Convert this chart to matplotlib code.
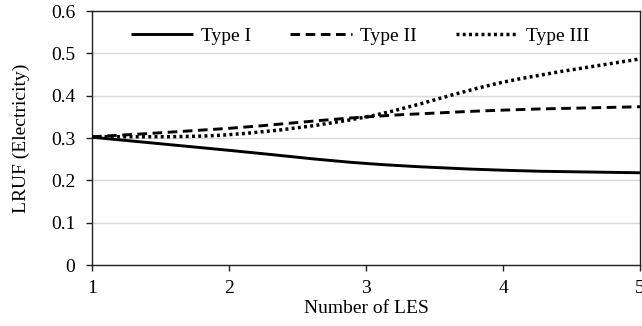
import numpy as np
import matplotlib
matplotlib.use("Agg")
import matplotlib.pyplot as plt
from matplotlib.path import Path
from matplotlib.patches import PathPatch
from matplotlib.lines import Line2D

plt.rcParams["font.family"] = ["Liberation Serif", "DejaVu Serif"]

num_les = [1, 2, 3, 4, 5]
type_1 = [0.302, 0.271, 0.240, 0.224, 0.218]
type_2 = [0.303, 0.323, 0.350, 0.366, 0.374]
type_3 = [0.303, 0.308, 0.350, 0.432, 0.487]
labels = ["Type I", "Type II", "Type III"]

styles = [
    dict(linestyle="-", linewidth=2.1),
    dict(linestyle=(0, (3.3, 1.9)), linewidth=2.1),
    dict(linestyle=(0, (0.85, 0.95)), linewidth=2.5),
]


def smooth_path(x, y):
    # cubic bezier through the points, spreadsheet-style smoothing
    p = np.column_stack([x, y]).astype(float)
    ext = np.vstack([p[0], p, p[-1]])
    verts = [p[0]]
    codes = [Path.MOVETO]
    for i in range(len(p) - 1):
        p0, p1, p2, p3 = ext[i], ext[i + 1], ext[i + 2], ext[i + 3]
        c1 = p1 + (p2 - p0) / 6.0
        c2 = p2 - (p3 - p1) / 6.0
        verts += [c1, c2, p2]
        codes += [Path.CURVE4] * 3
    return Path(verts, codes)


fig = plt.figure(figsize=(6.42, 3.26), dpi=100)
ax = fig.add_axes([0.1433, 0.187, 0.8537, 0.779])

handles = []
for ys, st, lab in zip([type_1, type_2, type_3], styles, labels):
    patch = PathPatch(smooth_path(num_les, ys), fill=False, edgecolor="black",
                      capstyle="butt", joinstyle="round", zorder=3, **st)
    ax.add_patch(patch)
    handles.append(Line2D([], [], color="black", solid_capstyle="butt",
                          dash_capstyle="butt", **st))

ax.set_xlim(1, 5)
ax.set_ylim(0, 0.6)
ax.set_xticks(num_les)
ax.set_yticks(np.arange(0, 0.61, 0.1))
ax.set_yticklabels(["0", "0.1", "0.2", "0.3", "0.4", "0.5", "0.6"])
ax.grid(axis="y", color="#d9d9d9", linewidth=1)
ax.set_axisbelow(True)
for s in ax.spines.values():
    s.set_color("#222222")
    s.set_linewidth(1)
ax.tick_params(axis="both", direction="out", length=4, width=1,
               labelsize=14, colors="#222222", labelcolor="black")
ax.tick_params(axis="y", pad=8)
ax.tick_params(axis="x", pad=7)

ax.set_xlabel("Number of LES", fontsize=14, labelpad=2)
ax.set_ylabel("LRUF (Electricity)", fontsize=14, labelpad=15)

ax.legend(handles, labels, loc="center", bbox_to_anchor=(0.489, 0.9),
          ncol=3, frameon=False, fontsize=14, handlelength=3.2,
          columnspacing=2.0, handletextpad=0.4)

fig.savefig("out.png", dpi=100)
